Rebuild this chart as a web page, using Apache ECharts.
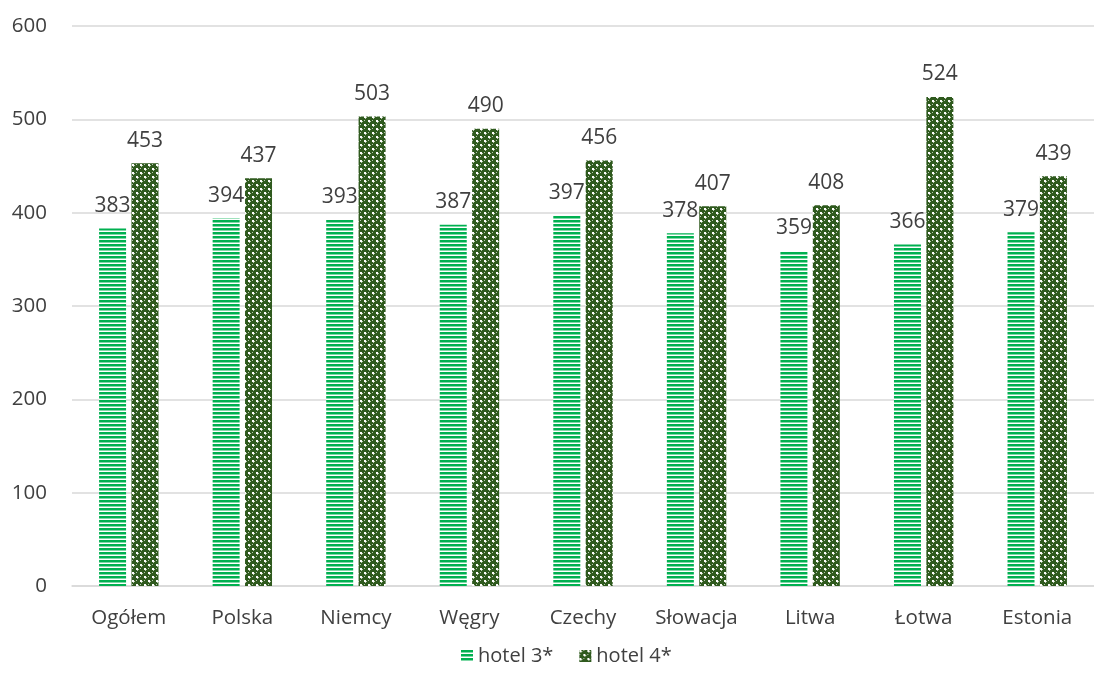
<!DOCTYPE html>
<html><head><meta charset="utf-8">
<script src="https://cdn.jsdelivr.net/npm/echarts@6/dist/echarts.min.js"></script>
<style>html,body{margin:0;padding:0;background:#fff}#c{width:1094px;height:680px}</style>
</head><body><div id="c"></div>
<script>
const categories = ['Ogółem','Polska','Niemcy','Węgry','Czechy','Słowacja','Litwa','Łotwa','Estonia'];
const hotel3 = [383,394,393,387,397,378,359,366,379];
const hotel4 = [453,437,503,490,456,407,408,524,439];
const seriesNames = ['hotel 3*','hotel 4*'];

function stripes(){
  const c=document.createElement('canvas');c.width=8;c.height=4;
  const x=c.getContext('2d');
  x.fillStyle='#ffffff';x.fillRect(0,0,8,4);
  x.fillStyle='#00b050';x.fillRect(0,0,8,2);
  x.fillStyle='#7fd8a7';x.fillRect(0,2,8,1);
  return c;
}
function checks(){
  const c=document.createElement('canvas');c.width=8;c.height=8;
  const x=c.getContext('2d');
  x.fillStyle='#2f5a1e';x.fillRect(0,0,8,8);
  x.fillStyle='#ffffff';
  x.fillRect(0,0,2,2);x.fillRect(4,4,2,2);
  x.fillStyle='#b9c9b0';
  x.fillRect(2,1,1,1);x.fillRect(6,5,1,1);x.fillRect(1,2,1,1);x.fillRect(5,6,1,1);
  x.fillRect(4,0,1,1);x.fillRect(0,4,1,1);
  return c;
}
const p3={image:stripes(),repeat:'repeat'};
const p4={image:checks(),repeat:'repeat'};
const font='"Open Sans", "Noto Sans", sans-serif';
const chart=echarts.init(document.getElementById('c'));
const lbl={show:true,position:'top',distance:12,color:'#404040',fontSize:21,fontFamily:font};
chart.setOption({
  animation:false,
  textStyle:{fontFamily:font},
  grid:{left:72,right:-9,top:26,bottom:94,containLabel:false},
  legend:{bottom:9,left:456,itemWidth:12,itemHeight:12,itemGap:26,
    textStyle:{fontSize:20,color:'#404040',fontFamily:font},
    data:[{name:seriesNames[0],icon:'rect'},{name:seriesNames[1],icon:'rect'}]},
  xAxis:{type:'category',data:categories,
    axisLine:{lineStyle:{color:'#d9d9d9',width:1.5}},axisTick:{show:false},
    axisLabel:{fontSize:20.5,color:'#404040',margin:22,fontFamily:font}},
  yAxis:{type:'value',min:0,max:600,interval:100,
    axisLine:{show:false},axisTick:{show:false},
    splitLine:{lineStyle:{color:'#d9d9d9',width:1.5}},
    axisLabel:{fontSize:20.5,color:'#404040',margin:25,fontFamily:font}},
  series:[
    {name:seriesNames[0],type:'bar',data:hotel3,barWidth:27,barGap:'20%',itemStyle:{color:p3},label:lbl},
    {name:seriesNames[1],type:'bar',data:hotel4,barWidth:27,barGap:'20%',itemStyle:{color:p4},label:lbl}
  ]
});
</script></body></html>
